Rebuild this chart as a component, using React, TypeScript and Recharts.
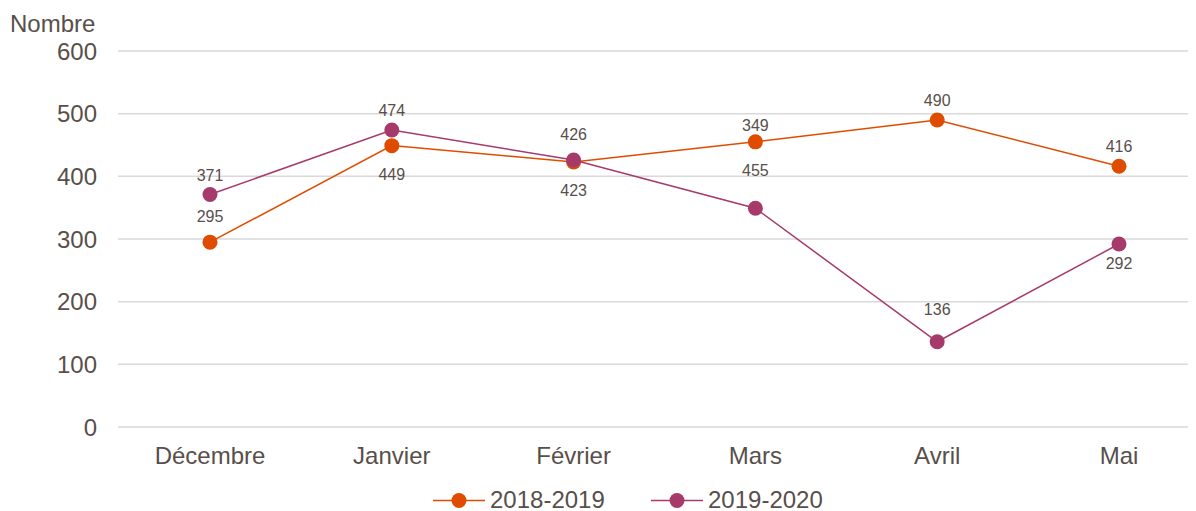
import React from 'react';
import * as R from 'recharts';
import { LineChart, Line, XAxis, YAxis, CartesianGrid, LabelList } from 'recharts';

const categories = ['Décembre', 'Janvier', 'Février', 'Mars', 'Avril', 'Mai'];
const values1819 = [295, 449, 423, 455, 490, 416];
const values1920 = [371, 474, 426, 349, 136, 292];
const yTicks = [0, 100, 200, 300, 400, 500, 600];
const seriesNames = ['2018-2019', '2019-2020'];
const yTitle = 'Nombre';
const Y_MAX = 600;

// label placement (style only)
const place1819 = ['topFar', 'bottom', 'bottom', 'bottom', 'top', 'top'];
const place1920 = ['top', 'top', 'topFar', 'aboveOther', 'topFarther', 'bottomNear'];

const COLORS = ['#DF4C00', '#A63A6B'];
const TEXT = '#584f4b';
const FONT = '"Liberation Sans", Arial, sans-serif';
const W = 1188;
const H = 503;

const data = categories.map((c, i) => ({ cat: c, a: values1819[i], b: values1920[i] }));

const usePlot: any = (R as any).usePlotArea || (() => null);

function PointLabel(props: any) {
  const { x, y, value, index, placement, other } = props;
  const plot = usePlot();
  const p = placement[index];
  let ty = y - 14;
  if (p === 'topFar') ty = y - 20;
  else if (p === 'topFarther') ty = y - 27;
  else if (p === 'bottom') ty = y + 34;
  else if (p === 'bottomNear') ty = y + 25;
  else if (p === 'aboveOther') {
    if (plot && plot.height) {
      const oy = plot.y + plot.height * (1 - other[index] / Y_MAX);
      ty = oy - 11;
    }
  }
  return (
    <text x={x} y={ty} textAnchor="middle" fontSize={16} fill={TEXT} fontFamily={FONT}>
      {value}
    </text>
  );
}

const legendX = [425, 643];

export default function App() {
  return (
    <div style={{ position: 'relative', width: W, height: H, fontFamily: FONT }}>
      <LineChart width={W} height={H} data={data} margin={{ top: 43, right: 0, left: 0, bottom: 34 }}>
        <CartesianGrid vertical={false} stroke="#D9D9D9" strokeWidth={1.5} />
        <XAxis
          dataKey="cat"
          axisLine={false}
          tickLine={false}
          height={50}
          padding={{ left: 92, right: 77 }}
          tickMargin={14}
          tick={{ fontSize: 24, fill: TEXT, fontFamily: FONT }}
        />
        <YAxis
          domain={[0, Y_MAX]}
          ticks={yTicks}
          width={110}
          axisLine={false}
          tickLine={false}
          tickMargin={15}
          tick={{ fontSize: 24, fill: TEXT, fontFamily: FONT }}
        />
        <Line
          dataKey="a"
          name={seriesNames[0]}
          stroke={COLORS[0]}
          strokeWidth={1.5}
          dot={{ r: 7.5, fill: COLORS[0], stroke: COLORS[0], strokeWidth: 0 }}
          isAnimationActive={false}
        >
          <LabelList
            dataKey="a"
            content={(p: any) => <PointLabel {...p} placement={place1819} other={values1920} />}
          />
        </Line>
        <Line
          dataKey="b"
          name={seriesNames[1]}
          stroke={COLORS[1]}
          strokeWidth={1.5}
          dot={{ r: 7.5, fill: COLORS[1], stroke: COLORS[1], strokeWidth: 0 }}
          isAnimationActive={false}
        >
          <LabelList
            dataKey="b"
            content={(p: any) => <PointLabel {...p} placement={place1920} other={values1819} />}
          />
        </Line>
      </LineChart>
      <svg
        width={W}
        height={H}
        style={{ position: 'absolute', left: 0, top: 0, pointerEvents: 'none' }}
      >
        <text x={2} y={24} fontSize={24} fill={TEXT} fontFamily={FONT}>
          {yTitle}
        </text>
        {seriesNames.map((n, i) => {
          const x0 = legendX[i];
          const cy = 492.5;
          return (
            <g key={n}>
              <line x1={x0} x2={x0 + 52} y1={cy} y2={cy} stroke={COLORS[i]} strokeWidth={1.5} />
              <circle cx={x0 + 26} cy={cy} r={7.5} fill={COLORS[i]} />
              <text x={x0 + 57} y={cy + 7} fontSize={24} fill={TEXT} fontFamily={FONT}>
                {n}
              </text>
            </g>
          );
        })}
      </svg>
    </div>
  );
}
